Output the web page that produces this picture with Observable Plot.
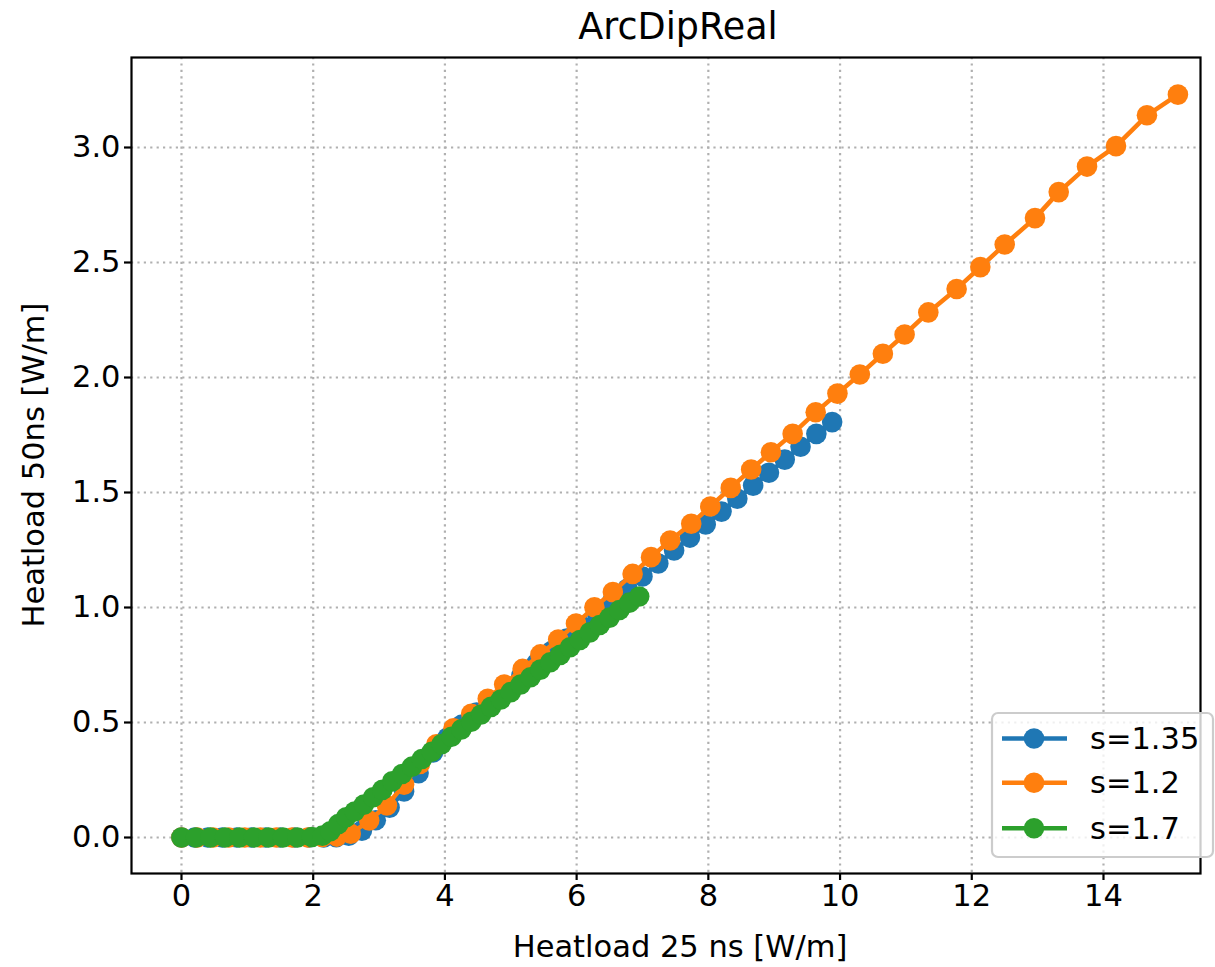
<!DOCTYPE html>
<html><head><meta charset="utf-8">
<script src="https://cdn.jsdelivr.net/npm/d3@7"></script>
<script src="https://cdn.jsdelivr.net/npm/@observablehq/plot@0.6"></script>
<style>
body{margin:0;background:#fff;font-family:"DejaVu Sans",sans-serif;}
#title{height:54px;line-height:54px;font-size:36.5px;position:relative;width:1215px;}
#title span{position:absolute;left:678px;transform:translateX(-50%);white-space:nowrap;color:#000;}
</style></head><body>
<div id="title"><span>ArcDipReal</span></div>
<div id="chart"></div>
<script>
const title = "ArcDipReal";
const xLabel = "Heatload 25 ns [W/m]";
const yLabel = "Heatload 50ns [W/m]";
const seriesNames = ["s=1.35", "s=1.2", "s=1.7"];
const seriesColors = ["#1f77b4", "#ff7f0e", "#2ca02c"];
const xTicks = [0, 2, 4, 6, 8, 10, 12, 14];
const yTicks = [0, 0.5, 1.0, 1.5, 2.0, 2.5, 3.0];

// s=1.35
const x135 = [0, 0.2, 0.4, 0.62, 0.84, 1.06, 1.28, 1.5, 1.72, 1.94, 2.16, 2.35, 2.54, 2.74, 2.95, 3.16, 3.38, 3.6, 3.82, 4.04, 4.26, 4.48, 4.7, 4.93, 5.16, 5.39, 5.62, 5.85, 6.08, 6.31, 6.54, 6.77, 7.0, 7.24, 7.48, 7.72, 7.96, 8.2, 8.44, 8.68, 8.92, 9.16, 9.4, 9.64, 9.88];
const y135 = [0, 0, 0, 0, 0, 0, 0, 0, 0, 0, 0, 0.001, 0.008, 0.03, 0.075, 0.13, 0.2, 0.28, 0.37, 0.435, 0.491, 0.543, 0.595, 0.649, 0.703, 0.757, 0.811, 0.865, 0.919, 0.973, 1.027, 1.081, 1.135, 1.191, 1.248, 1.304, 1.361, 1.417, 1.473, 1.53, 1.586, 1.643, 1.699, 1.755, 1.806];
// s=1.2
const x12 = [0, 0.24, 0.48, 0.72, 0.96, 1.2, 1.44, 1.68, 1.92, 2.14, 2.36, 2.57, 2.85, 3.12, 3.38, 3.62, 3.87, 4.13, 4.40, 4.65, 4.90, 5.18, 5.45, 5.72, 5.99, 6.27, 6.55, 6.85, 7.13, 7.42, 7.74, 8.03, 8.34, 8.65, 8.95, 9.28, 9.63, 9.96, 10.30, 10.65, 10.98, 11.34, 11.77, 12.13, 12.50, 12.96, 13.32, 13.75, 14.19, 14.66, 15.13];
const y12 = [0, 0, 0, 0, 0, 0, 0, 0, 0, 0.002, 0.004, 0.016, 0.074, 0.139, 0.23, 0.32, 0.405, 0.475, 0.538, 0.603, 0.665, 0.733, 0.796, 0.861, 0.93, 1.001, 1.067, 1.146, 1.219, 1.291, 1.364, 1.439, 1.52, 1.60, 1.675, 1.755, 1.849, 1.93, 2.013, 2.103, 2.187, 2.283, 2.385, 2.48, 2.578, 2.693, 2.806, 2.917, 3.006, 3.14, 3.23];
// s=1.7
const x17 = [0, 0.22, 0.44, 0.66, 0.88, 1.1, 1.32, 1.54, 1.76, 1.98, 2.14, 2.26, 2.38, 2.5, 2.63, 2.77, 2.91, 3.05, 3.2, 3.35, 3.5, 3.65, 3.8, 3.95, 4.1, 4.25, 4.4, 4.55, 4.7, 4.85, 5.0, 5.15, 5.3, 5.45, 5.6, 5.75, 5.9, 6.05, 6.2, 6.35, 6.5, 6.65, 6.8, 6.95];
const y17 = [0, 0, 0, 0, 0, 0, 0, 0, 0, 0.002, 0.008, 0.027, 0.058, 0.088, 0.113, 0.143, 0.175, 0.207, 0.244, 0.276, 0.308, 0.341, 0.373, 0.406, 0.438, 0.470, 0.503, 0.535, 0.568, 0.600, 0.632, 0.665, 0.697, 0.730, 0.762, 0.794, 0.827, 0.859, 0.892, 0.924, 0.956, 0.989, 1.021, 1.048];

const seriesX = [x135, x12, x17];
const seriesY = [y135, y12, y17];
const series = seriesNames.map((name, i) => ({
  name, color: seriesColors[i],
  data: seriesX[i].map((x, j) => ({x, y: seriesY[i][j]}))
}));

const W = 1215, H = 913;
const R = 10.3;
const grid = {stroke: "#b0b0b0", strokeOpacity: 1, strokeWidth: 2.2, strokeDasharray: "2.2,4.2"};
const marks = [
  Plot.ruleX(xTicks, grid),
  Plot.ruleY(yTicks, grid)
];
for (const s of series) {
  marks.push(Plot.line(s.data, {x: "x", y: "y", stroke: s.color, strokeWidth: 4.5}));
  marks.push(Plot.dot(s.data, {x: "x", y: "y", r: R, fill: s.color, stroke: "none"}));
}
marks.push(Plot.frame({stroke: "black", strokeWidth: 2.2}));
marks.push(Plot.axisX(xTicks, {tickSize: 7, tickPadding: 4, strokeWidth: 2.2, tickFormat: d => String(d), label: null, fill: "black"}));
marks.push(Plot.axisY(yTicks, {tickSize: 7, tickPadding: 4, strokeWidth: 2.2, tickFormat: d => d.toFixed(1), label: null, fill: "black"}));

const chart = Plot.plot({
  width: W, height: H,
  marginLeft: 131, marginRight: 15, marginTop: 3, marginBottom: 94,
  x: {domain: [-0.759, 15.473], label: null},
  y: {domain: [-0.1565, 3.3913], label: null},
  style: {fontSize: "30.5px", fontFamily: "DejaVu Sans", color: "black", background: "white", overflow: "visible"},
  marks
});
document.getElementById("chart").appendChild(chart);

const svg = d3.select(chart);
svg.append("text").attr("x", 680).attr("y", 903).attr("text-anchor", "middle")
  .attr("font-size", "30.5px").attr("font-family", "DejaVu Sans").attr("fill", "black").text(xLabel);
svg.append("text").attr("transform", "translate(44,411) rotate(-90)").attr("text-anchor", "middle")
  .attr("font-size", "30.5px").attr("font-family", "DejaVu Sans").attr("fill", "black").text(yLabel);

// legend
const lg = svg.append("g");
lg.append("rect").attr("x", 992).attr("y", 659).attr("width", 221).attr("height", 144).attr("rx", 6)
  .attr("fill", "white").attr("fill-opacity", 0.8).attr("stroke", "#cccccc").attr("stroke-width", 2.2);
const rowY = [684.5, 728.7, 774.3];
series.forEach((s, i) => {
  lg.append("line").attr("x1", 1002).attr("x2", 1067).attr("y1", rowY[i]).attr("y2", rowY[i])
    .attr("stroke", s.color).attr("stroke-width", 4.5);
  lg.append("circle").attr("cx", 1034).attr("cy", rowY[i]).attr("r", R).attr("fill", s.color);
  lg.append("text").attr("x", 1090).attr("y", rowY[i]).attr("dy", "0.35em").attr("text-anchor", "start")
    .attr("font-size", "30.5px").attr("font-family", "DejaVu Sans").attr("fill", "black").text(s.name);
});
</script>
</body></html>
